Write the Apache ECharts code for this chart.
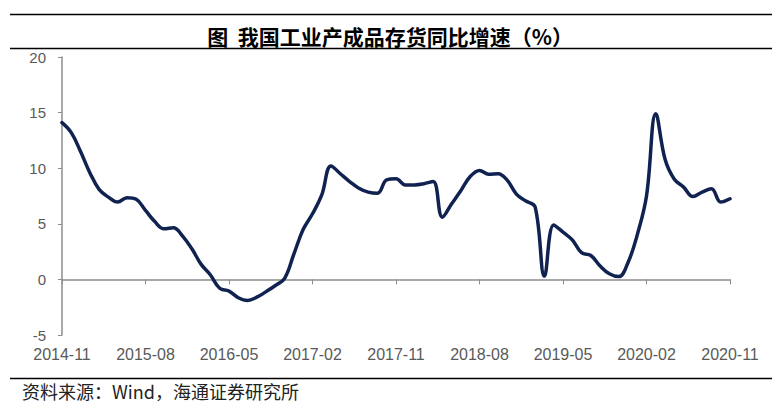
<!DOCTYPE html>
<html>
<head>
<meta charset="utf-8">
<script src="https://cdn.jsdelivr.net/npm/echarts@6/dist/echarts.min.js"></script>
<style>
html,body{margin:0;padding:0;background:#fff;}
#chart{width:780px;height:411px;}
</style>
</head>
<body>
<div id="chart"></div>
<script>
var titleText = '图  我国工业产成品存货同比增速（%）';
var sourceText = '资料来源：Wind，海通证券研究所';

var categories = [
  '2014-11','2014-12',
  '2015-01','2015-02','2015-03','2015-04','2015-05','2015-06','2015-07','2015-08','2015-09','2015-10','2015-11','2015-12',
  '2016-01','2016-02','2016-03','2016-04','2016-05','2016-06','2016-07','2016-08','2016-09','2016-10','2016-11','2016-12',
  '2017-01','2017-02','2017-03','2017-04','2017-05','2017-06','2017-07','2017-08','2017-09','2017-10','2017-11','2017-12',
  '2018-01','2018-02','2018-03','2018-04','2018-05','2018-06','2018-07','2018-08','2018-09','2018-10','2018-11','2018-12',
  '2019-01','2019-02','2019-03','2019-04','2019-05','2019-06','2019-07','2019-08','2019-09','2019-10','2019-11','2019-12',
  '2020-01','2020-02','2020-03','2020-04','2020-05','2020-06','2020-07','2020-08','2020-09','2020-10','2020-11'
];

var inventoryYoY = [
  14.1, 13.2,
  11.5, 9.6, 8.1, 7.4, 6.95, 7.35, 7.2, 6.2, 5.2, 4.55, 4.65, 3.9,
  2.75, 1.35, 0.4, -0.8, -1.05, -1.65, -1.9, -1.6, -1.1, -0.55, 0.1, 2.3,
  4.5, 5.9, 7.6, 10.2, 9.5, 8.8, 8.2, 7.85, 7.75, 8.95, 9.05, 8.5,
  8.5, 8.6, 8.8, 5.6, 6.8, 8.0, 9.25, 9.8, 9.45, 9.5, 8.9, 7.65,
  7.05, 6.5, 0.3, 4.9, 4.25, 3.55, 2.4, 2.15, 1.2, 0.5, 0.25, 1.5,
  4.0, 7.5, 14.9, 10.8, 9.0, 8.3, 7.45, 7.85, 8.15, 6.95, 7.25
];

var yMin = -5, yMax = 20, yStep = 5;
var labelEvery = 9;

var chart = echarts.init(document.getElementById('chart'), null, {renderer: 'svg'});
var labelFont = "'Liberation Sans','Arial',sans-serif";
var axisGray = '#8c8c8c';
var labelGray = '#595959';

chart.setOption({
  animation: false,
  backgroundColor: '#fff',
  title: {
    text: titleText,
    left: 'center',
    top: 20,
    textStyle: {fontFamily: "'Noto Sans CJK SC',sans-serif", fontSize: 21, fontWeight: 'bold', color: '#000'}
  },
  graphic: [
    {type: 'line', shape: {x1: 10, y1: 14.5, x2: 772, y2: 14.5}, style: {stroke: '#000', lineWidth: 1.5}},
    {type: 'line', shape: {x1: 10, y1: 48.5, x2: 772, y2: 48.5}, style: {stroke: '#000', lineWidth: 1.5}},
    {type: 'line', shape: {x1: 10, y1: 378.5, x2: 772, y2: 378.5}, style: {stroke: '#000', lineWidth: 1.5}},
    {type: 'text', left: 22, top: 382, style: {text: sourceText, fill: '#222', font: "18px 'Noto Sans CJK SC',sans-serif"}}
  ],
  grid: {left: 62, right: 50, top: 57, bottom: 76, containLabel: false},
  xAxis: [
    {
      type: 'category',
      data: categories,
      boundaryGap: false,
      position: 'bottom',
      axisLine: {show: false, onZero: false},
      axisTick: {show: false},
      axisLabel: {
        interval: labelEvery - 1,
        margin: 11,
        color: labelGray,
        fontFamily: labelFont,
        fontSize: 16
      },
      splitLine: {show: false}
    },
    {
      type: 'category',
      data: categories,
      boundaryGap: false,
      position: 'bottom',
      axisLine: {show: true, onZero: true, lineStyle: {color: axisGray, width: 1.5}},
      axisTick: {show: true, interval: labelEvery - 1, length: 5, inside: false, lineStyle: {color: axisGray, width: 1}},
      axisLabel: {show: false},
      splitLine: {show: false}
    }
  ],
  yAxis: {
    type: 'value',
    min: yMin,
    max: yMax,
    interval: yStep,
    axisLine: {show: true, lineStyle: {color: axisGray, width: 1.5}},
    axisTick: {show: true, length: 4, lineStyle: {color: axisGray, width: 1}},
    axisLabel: {color: labelGray, fontFamily: labelFont, fontSize: 15, margin: 16},
    splitLine: {show: false}
  },
  series: [{
    type: 'line',
    xAxisIndex: 0,
    data: inventoryYoY,
    smooth: 0.4,
    symbol: 'none',
    lineStyle: {color: '#10224f', width: 3.5, cap: 'round', join: 'round'}
  }]
});
</script>
</body>
</html>
